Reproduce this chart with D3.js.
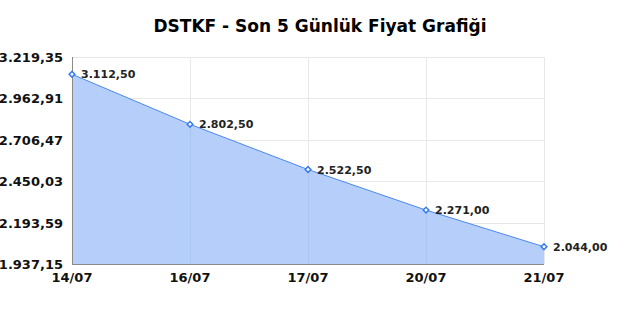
<!DOCTYPE html>
<html>
<head>
<meta charset="utf-8">
<script src="https://cdn.jsdelivr.net/npm/d3@7"></script>
<style>
  body { margin: 0; background: #fff; }
  text { font-family: "DejaVu Sans", sans-serif; }
</style>
</head>
<body>
<svg id="chart" width="640" height="320"></svg>
<script>
// data
var dates = ["14/07", "16/07", "17/07", "20/07", "21/07"];
var prices = [3112.50, 2802.50, 2522.50, 2271.00, 2044.00];
var yTicks = [1937.15, 2193.59, 2450.03, 2706.47, 2962.91, 3219.35];

var svg = d3.select("#chart");
var plotL = 72, plotR = 544, plotT = 57, plotB = 264;

var fmt = function(v) {
  var s = v.toFixed(2).split(".");
  return s[0].replace(/\B(?=(\d{3})+(?!\d))/g, ".") + "," + s[1];
};

var x = d3.scalePoint().domain(dates).range([plotL, plotR]);
var y = d3.scaleLinear().domain([yTicks[0], yTicks[yTicks.length - 1]]).range([plotB, plotT]);

svg.append("text")
  .attr("x", 320).attr("y", 32)
  .attr("text-anchor", "middle")
  .style("font-size", "17px").style("font-weight", "bold")
  .text("DSTKF - Son 5 Günlük Fiyat Grafiği");

// grid
svg.append("g").selectAll("line")
  .data(yTicks).enter().append("line")
  .attr("x1", plotL).attr("x2", plotR)
  .attr("y1", function(d) { return Math.round(y(d)) + 0.5; })
  .attr("y2", function(d) { return Math.round(y(d)) + 0.5; })
  .attr("stroke", "#e8e8e8").attr("stroke-width", 1);
svg.append("g").selectAll("line")
  .data(dates).enter().append("line")
  .attr("x1", function(d) { return Math.round(x(d)) + 0.5; })
  .attr("x2", function(d) { return Math.round(x(d)) + 0.5; })
  .attr("y1", plotT).attr("y2", plotB)
  .attr("stroke", "#e8e8e8").attr("stroke-width", 1);

var pts = dates.map(function(d, i) { return [d, prices[i]]; });

svg.append("path")
  .datum(pts)
  .attr("fill", "#b5cffa")
  .attr("d", d3.area()
    .x(function(d) { return x(d[0]); })
    .y0(plotB)
    .y1(function(d) { return y(d[1]); }));

// faint gridlines seen through the fill
svg.append("g").selectAll("line")
  .data(pts.slice(1, -1)).enter().append("line")
  .attr("x1", function(d) { return Math.round(x(d[0])) + 0.5; })
  .attr("x2", function(d) { return Math.round(x(d[0])) + 0.5; })
  .attr("y1", function(d) { return y(d[1]); }).attr("y2", plotB)
  .attr("stroke", "#a6c0ec").attr("stroke-opacity", 0.6).attr("stroke-width", 1);

svg.append("path")
  .datum(pts)
  .attr("fill", "none")
  .attr("stroke", "#4d88ec")
  .attr("stroke-width", 1)
  .attr("d", d3.line()
    .x(function(d) { return x(d[0]); })
    .y(function(d) { return y(d[1]); }));

// axes lines
svg.append("line")
  .attr("x1", plotL + 0.5).attr("x2", plotL + 0.5).attr("y1", plotT).attr("y2", plotB)
  .attr("stroke", "#8a8a8a");
svg.append("line")
  .attr("x1", plotL).attr("x2", plotR).attr("y1", plotB + 0.5).attr("y2", plotB + 0.5)
  .attr("stroke", "#8a8a8a");

svg.append("g").selectAll("rect")
  .data(pts).enter().append("rect")
  .attr("x", -2).attr("y", -2)
  .attr("width", 4).attr("height", 4)
  .attr("transform", function(d) {
    return "translate(" + x(d[0]) + "," + y(d[1]) + ") rotate(45)";
  })
  .attr("fill", "#fff").attr("stroke", "#3a7bea").attr("stroke-width", 1.5);

svg.append("g").selectAll("text")
  .data(pts).enter().append("text")
  .attr("x", function(d) { return x(d[0]) + 9; })
  .attr("y", function(d) { return y(d[1]) + 4; })
  .style("font-size", "11px").style("font-weight", "bold").attr("fill", "#222")
  .text(function(d) { return fmt(d[1]); });

svg.append("g").selectAll("text")
  .data(yTicks).enter().append("text")
  .attr("x", 63)
  .attr("y", function(d) { return y(d) + 5; })
  .attr("text-anchor", "end")
  .style("font-size", "13px").style("font-weight", "bold").attr("fill", "#111")
  .text(function(d) { return fmt(d); });

svg.append("g").selectAll("text")
  .data(dates).enter().append("text")
  .attr("x", function(d) { return x(d); })
  .attr("y", 282)
  .attr("text-anchor", "middle")
  .style("font-size", "13px").style("font-weight", "bold").attr("fill", "#111")
  .text(function(d) { return d; });
</script>
</body>
</html>
